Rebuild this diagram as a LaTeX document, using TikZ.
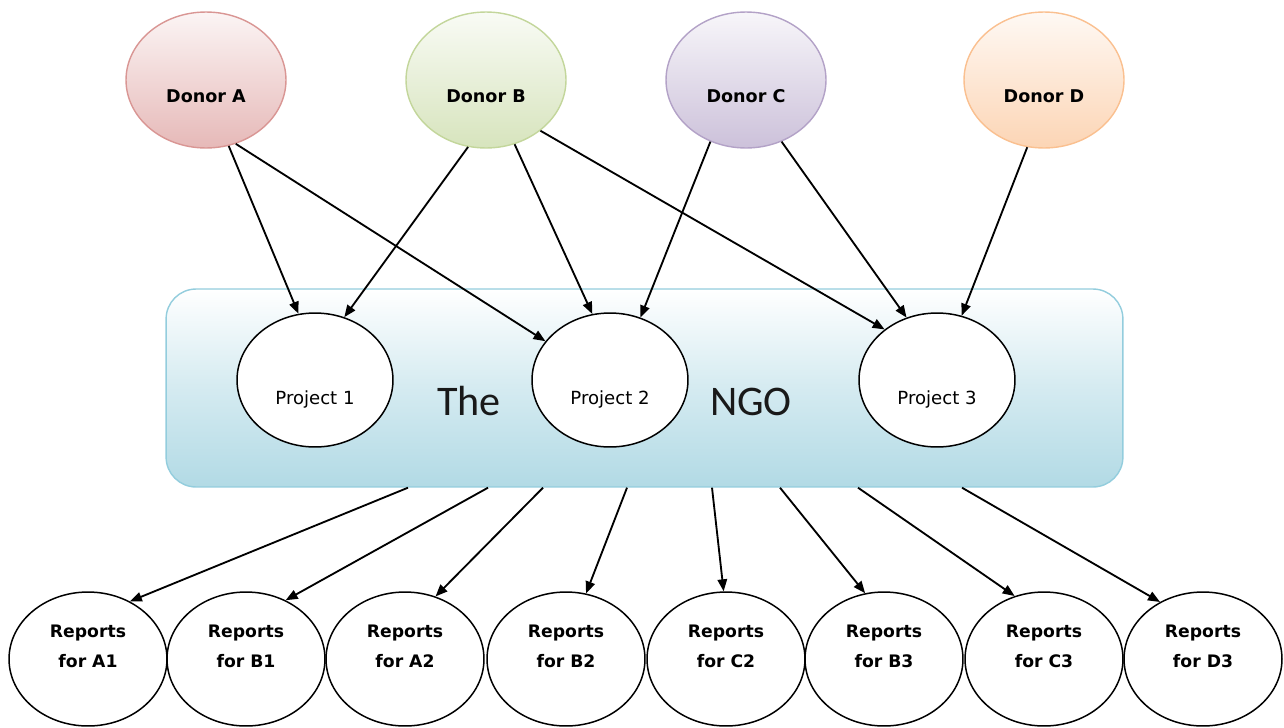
\documentclass[tikz,border=0pt]{standalone}
\usepackage{fontspec}
\setmainfont{DejaVu Sans}
\newfontfamily\titlefont{Carlito}
\usetikzlibrary{shapes.geometric,arrows.meta,calc}

\definecolor{redfill}{HTML}{E6B9B8}
\definecolor{redline}{HTML}{D99694}
\definecolor{greenfill}{HTML}{D7E4BD}
\definecolor{greenline}{HTML}{C3D69B}
\definecolor{purplefill}{HTML}{CCC1DA}
\definecolor{purpleline}{HTML}{B3A2C7}
\definecolor{orangefill}{HTML}{FCD5B5}
\definecolor{orangeline}{HTML}{FAC090}
\definecolor{ngofill}{HTML}{B2DAE5}
\definecolor{ngoline}{HTML}{93CDDD}

\begin{document}
\begin{tikzpicture}[x=0.02cm,y=-0.02cm,
  donorbox/.style={ellipse, minimum width=3.2cm, minimum height=2.72cm,
    inner sep=0pt, line width=0.8pt},
  donortext/.style={anchor=base, font=\bfseries\fontsize{10}{12}\selectfont},
  ngobox/.style={rectangle, rounded corners=0.6cm, minimum width=19.14cm,
    minimum height=3.96cm, inner sep=0pt, draw=ngoline, line width=0.8pt,
    top color=white, bottom color=ngofill, middle color=ngofill!55},
  bigtext/.style={anchor=base, font=\titlefont\fontsize{24}{28}\selectfont,
    text=black!90},
  projbox/.style={ellipse, draw=black, fill=white, minimum width=3.12cm,
    minimum height=2.68cm, inner sep=0pt, line width=0.85pt},
  projtext/.style={anchor=base, font=\fontsize{10.3}{12}\selectfont},
  reportbox/.style={ellipse, draw=black, fill=white, minimum width=3.16cm,
    minimum height=2.68cm, inner sep=0pt, line width=0.85pt},
  reporttext/.style={anchor=base, font=\bfseries\fontsize{9.8}{12}\selectfont},
  flow/.style={-{Triangle[length=0.24cm,width=0.19cm]}, line width=1.05pt, black}
]
\useasboundingbox (0,0) rectangle (1284,727);

% donors
\node[donorbox, draw=redline, top color=redfill!15, bottom color=redfill] (dA) at (206,80) {};
\node[donortext] (dAt) at (206,102) {Donor A};
\node[donorbox, draw=greenline, top color=greenfill!15, bottom color=greenfill] (dB) at (486,80) {};
\node[donortext] (dBt) at (486,102) {Donor B};
\node[donorbox, draw=purpleline, top color=purplefill!15, bottom color=purplefill] (dC) at (746,80) {};
\node[donortext] (dCt) at (746,102) {Donor C};
\node[donorbox, draw=orangeline, top color=orangefill!15, bottom color=orangefill] (dD) at (1044,80) {};
\node[donortext] (dDt) at (1044,102) {Donor D};

% the organisation and its projects
\node[ngobox] (ngo) at (644.5,388) {};
\node[bigtext] (the) at (469,415) {The};
\node[bigtext] (ngoname) at (751,415) {NGO};

\node[projbox] (p1) at (315,380) {};
\node[projtext] (p1t) at (315,404) {Project 1};
\node[projbox] (p2) at (610,380) {};
\node[projtext] (p2t) at (610,404) {Project 2};
\node[projbox] (p3) at (937,380) {};
\node[projtext] (p3t) at (937,404) {Project 3};

% funding flows
\draw[flow] (dA.-71) -- (p1.104);
\draw[flow] (dA.-65) -- (p2.149);
\draw[flow] (dB.-105) -- (p1.65);
\draw[flow] (dB.-66) -- (p2.105);
\draw[flow] (dB.-43) -- (p3.136);
\draw[flow] (dC.-120) -- (p2.64);
\draw[flow] (dC.-60) -- (p3.116);
\draw[flow] (dD.-104) -- (p3.69);

% reports
\foreach \i/\cx/\lab/\off/\ang in {
  1/88/A1/-236.5/54, 2/246/B1/-156.5/56, 3/405/A2/-101.5/64,
  4/566/B2/-17.5/73, 5/726/C2/67.5/92, 6/884/B3/135.5/106,
  7/1044/C3/213.5/115, 8/1203/D3/317.5/127} {
  \node[reportbox] (r\i) at (\cx,659) {};
  \node[reporttext] (rl\i) at (\cx,637) {Reports};
  \node[reporttext] (rm\i) at (\cx,667) {for \lab};
  \draw[flow] ($(ngo.south)+(\off,0)$) -- (r\i.\ang);
}
\end{tikzpicture}
\end{document}
